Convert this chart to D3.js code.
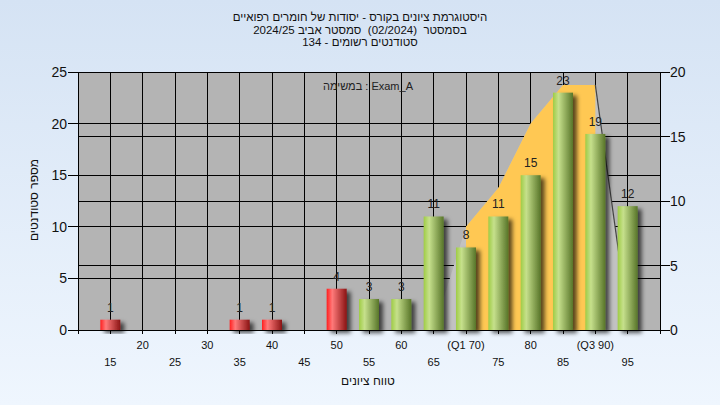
<!DOCTYPE html>
<html><head><meta charset="utf-8">
<script src="https://cdn.jsdelivr.net/npm/d3@7"></script>
<style>html,body{margin:0;padding:0;background:#e6eff9}svg{display:block}text{font-family:"Liberation Sans",Arial,sans-serif;white-space:pre}</style>
</head><body>
<script>
const titleLines = ["היסטוגרמת ציונים בקורס - יסודות של חומרים רפואיים", "בסמסטר  (02/2024)  סמסטר אביב 2024/25", "סטודנטים רשומים - 134"];
const legendText = "במשימה : Exam_A";
const yTitle = "מספר סטודנטים";
const xTitle = "טווח ציונים";
const grades = [15,20,25,30,35,40,45,50,55,60,65,70,75,80,85,90,95];
const counts = [1,0,0,0,1,1,0,4,3,3,11,8,11,15,23,19,12];
const passGrade = 55;
const q1 = 70, q3 = 90;
const curveX = [65,70,75,80,85,90,95];
const curveY = [0,8,11,16,19,19,1];
const leftTicks = [0,5,10,15,20,25];
const rightTicks = [0,5,10,15,20];
const tickLabel = g => g === q1 ? "(Q1 " + g + ")" : g === q3 ? "(Q3 " + g + ")" : String(g);

const W = 720, H = 405;
const L = 78, R = 660, T = 72, B = 330;
const svg = d3.select("body").append("svg").attr("width", W).attr("height", H);
const defs = svg.append("defs");
const bg = defs.append("linearGradient").attr("id","bg").attr("x1",0).attr("y1",0).attr("x2",0).attr("y2",1);
bg.append("stop").attr("offset","0%").attr("stop-color","#d5e3f4");
bg.append("stop").attr("offset","100%").attr("stop-color","#eff6fe");
function cyl(id, c0, c1, c2) {
  const g = defs.append("linearGradient").attr("id", id).attr("x1",0).attr("y1",0).attr("x2",1).attr("y2",0);
  g.append("stop").attr("offset","0%").attr("stop-color",c0);
  g.append("stop").attr("offset","28%").attr("stop-color",c1);
  g.append("stop").attr("offset","100%").attr("stop-color",c2);
}
cyl("gGreen", "#9fcc45", "#c6e08c", "#587529");
cyl("gRed", "#ff1f1f", "#ff7a7a", "#8a1414");
const f = defs.append("filter").attr("id","sh").attr("x","-30%").attr("y","-30%").attr("width","180%").attr("height","160%");
f.append("feDropShadow").attr("dx",4).attr("dy",3).attr("stdDeviation",2).attr("flood-color","#000").attr("flood-opacity",0.65);
defs.append("clipPath").attr("id","iqr").append("rect");

svg.append("rect").attr("width",W).attr("height",H).attr("fill","url(#bg)");

const x = d3.scaleLinear().domain([10,100]).range([L,R]);
const yL = d3.scaleLinear().domain([0,25]).range([B,T]);
const yR = d3.scaleLinear().domain([0,20]).range([B,T]);

svg.append("rect").attr("x",L).attr("y",T).attr("width",R-L).attr("height",B-T).attr("fill","#b4b4b4");

// gridlines
const grid = svg.append("g").attr("stroke","#000").attr("stroke-width",1).attr("shape-rendering","crispEdges");
d3.range(10,101,5).forEach(v => grid.append("line").attr("x1",x(v)).attr("x2",x(v)).attr("y1",T).attr("y2",B+4));
leftTicks.forEach(v => grid.append("line").attr("x1",L).attr("x2",R).attr("y1",yL(v)).attr("y2",yL(v)));
rightTicks.forEach(v => grid.append("line").attr("x1",L).attr("x2",R).attr("y1",yR(v)).attr("y2",yR(v)));

// distribution area
const pts = curveX.map((v,i) => [v, curveY[i]]);
const area = d3.area().x(d => x(d[0])).y0(B).y1(d => yR(d[1]));
svg.append("path").attr("d", area(pts)).attr("fill","#c2c2c2");
svg.select("#iqr rect").attr("x",x(q1)).attr("y",T).attr("width",x(q3)-x(q1)).attr("height",B-T);
svg.append("path").attr("d", area(pts)).attr("fill","#ffc853").attr("clip-path","url(#iqr)");
const tail = pts.filter(d => d[0] >= q3);
svg.append("path").attr("d", d3.line().x(d => x(d[0])).y(d => yR(d[1]))(tail)).attr("fill","none").attr("stroke","#444").attr("stroke-width",1.2);

// axes
const ax = svg.append("g").attr("stroke","#000").attr("shape-rendering","crispEdges");
ax.append("line").attr("x1",L).attr("x2",L).attr("y1",T).attr("y2",B+4);
ax.append("line").attr("x1",R).attr("x2",R).attr("y1",T).attr("y2",B+4);
ax.append("line").attr("x1",L).attr("x2",R).attr("y1",T).attr("y2",T);
ax.append("line").attr("x1",L).attr("x2",R).attr("y1",B).attr("y2",B);
leftTicks.forEach(v => ax.append("line").attr("x1",L-10).attr("x2",L).attr("y1",yL(v)).attr("y2",yL(v)));
rightTicks.forEach(v => ax.append("line").attr("x1",R).attr("x2",R+10).attr("y1",yR(v)).attr("y2",yR(v)));

svg.append("g").selectAll("text").data(leftTicks).join("text")
  .attr("x",L-11).attr("y",d => yL(d)+5).attr("text-anchor","end").attr("font-size",14).attr("fill","#111").text(d => d);
svg.append("g").selectAll("text").data(rightTicks).join("text")
  .attr("x",R+10).attr("y",d => yR(d)+5).attr("text-anchor","start").attr("font-size",14).attr("fill","#111").text(d => d);

// bars
const bars = grades.map((g,i) => ({g, c: counts[i]})).filter(d => d.c > 0);
const bw = 20;
svg.append("g").selectAll("rect").data(bars).join("rect")
  .attr("x", d => x(d.g) - bw/2).attr("width", bw)
  .attr("y", d => yL(d.c)).attr("height", d => B - yL(d.c))
  .attr("fill", d => d.g < passGrade ? "url(#gRed)" : "url(#gGreen)")
  .attr("filter","url(#sh)");
svg.append("g").selectAll("text").data(bars).join("text")
  .attr("x", d => x(d.g)).attr("y", d => yL(d.c) - 8).attr("text-anchor","middle")
  .attr("font-size",12).attr("fill","#222").text(d => d.c);

// x tick labels (staggered)
svg.append("g").selectAll("text").data(grades).join("text")
  .attr("x", d => x(d)).attr("y", (d,i) => i % 2 === 1 ? 349 : 366).attr("text-anchor","middle")
  .attr("font-size",11).attr("fill","#111").text(d => tickLabel(d));

// titles
svg.append("g").selectAll("text").data(titleLines).join("text")
  .attr("x",360).attr("y",(d,i) => 21 + i*12.7).attr("text-anchor","middle").attr("direction","rtl")
  .attr("font-size",11.5).attr("fill","#111").text(d => d);
svg.append("text").attr("x",323).attr("y",90).attr("direction","ltr").attr("font-size",11).attr("fill","#222").text(legendText);
svg.append("text").attr("x",368).attr("y",385).attr("text-anchor","middle").attr("direction","rtl").attr("font-size",12).attr("fill","#111").text(xTitle);
svg.append("text").attr("transform","translate(38,200) rotate(-90)").attr("text-anchor","middle").attr("direction","rtl").attr("font-size",12).attr("fill","#111").text(yTitle);
</script>
</body></html>
